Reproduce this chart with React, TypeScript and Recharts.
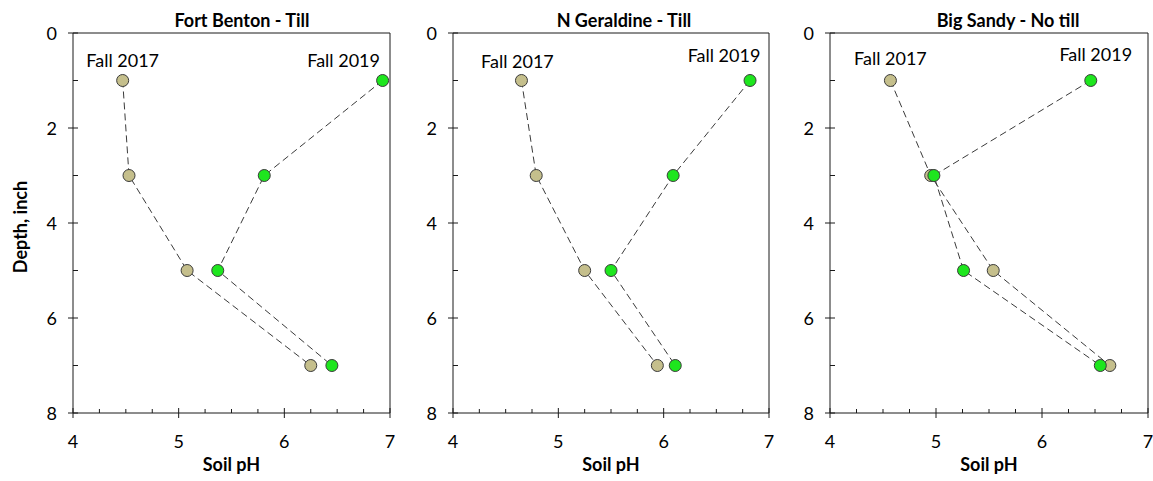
import React from 'react';
import { ScatterChart, Scatter, XAxis, YAxis, ReferenceLine, Label } from 'recharts';

// depth of each sample, inch
const depths = [1, 3, 5, 7];

// soil pH
const fortBenton2017 = [4.47, 4.53, 5.08, 6.25];
const fortBenton2019 = [6.93, 5.81, 5.37, 6.45];
const nGeraldine2017 = [4.65, 4.79, 5.25, 5.94];
const nGeraldine2019 = [6.82, 6.09, 5.5, 6.11];
const bigSandy2017 = [4.57, 4.95, 5.54, 6.64];
const bigSandy2019 = [6.46, 4.98, 5.26, 6.55];

const siteTitles = ['Fort Benton - Till', 'N Geraldine - Till', 'Big Sandy - No till'];
const seriesNames = ['Fall 2017', 'Fall 2019'];

const xTicks = [4, 4.25, 4.5, 4.75, 5, 5.25, 5.5, 5.75, 6, 6.25, 6.5, 6.75, 7];
const yTicks = [0, 1, 2, 3, 4, 5, 6, 7, 8];

const FONT = 'Lato, "Open Sans", sans-serif';
const INK = '#1a1a1a';
const TAN = '#c5bf8c';
const GREEN = '#1ee61e';

const toRows = (vals: number[]) => vals.map((ph, i) => ({ ph, depth: depths[i] }));

const panels = [
  {
    title: siteTitles[0], left: 0, width: 395, titleX: 242,
    s2017: fortBenton2017, s2019: fortBenton2019,
    lab2017: [0, -13.5], lab2019: [-39, -13.5], showDepth: true,
  },
  {
    title: siteTitles[1], left: 380, width: 394, titleX: 624,
    s2017: nGeraldine2017, s2019: nGeraldine2019,
    lab2017: [-4, -12.5], lab2019: [-26, -18.5], showDepth: false,
  },
  {
    title: siteTitles[2], left: 757, width: 396, titleX: 1008,
    s2017: bigSandy2017, s2019: bigSandy2019,
    lab2017: [0, -15.5], lab2019: [5, -19.5], showDepth: false,
  },
];

function YTick(props: any) {
  const { x, y, payload } = props;
  const v = payload.value;
  if (v % 2 === 1) {
    return <line x1={x} x2={x + 5} y1={y} y2={y} stroke={INK} />;
  }
  return (
    <g>
      <line x1={x - 5} x2={x + 5} y1={y} y2={y} stroke={INK} />
      <text x={x - 16} y={y + 6.5} textAnchor="end" fontFamily={FONT} fontSize={18} fill="#000">
        {v}
      </text>
    </g>
  );
}

function XTick(props: any) {
  const { x, y, payload } = props;
  const v = payload.value;
  if (!Number.isInteger(v)) {
    return <line x1={x} x2={x} y1={y - 4} y2={y} stroke={INK} />;
  }
  return (
    <g>
      <line x1={x} x2={x} y1={y - 5} y2={y + 5} stroke={INK} />
      <text x={x} y={y + 35} textAnchor="middle" fontFamily={FONT} fontSize={18} fill="#000">
        {v}
      </text>
    </g>
  );
}

function makeShape(fill: string, name: string, off: number[]) {
  return (props: any) => {
    const { cx, cy, payload } = props;
    return (
      <g>
        <circle cx={cx} cy={cy} r={6} fill={fill} stroke="#3a3a3a" strokeWidth={1} />
        {payload.depth === depths[0] && (
          <text x={cx + off[0]} y={cy + off[1]} textAnchor="middle" fontFamily={FONT} fontSize={18} fill="#000">
            {name}
          </text>
        )}
      </g>
    );
  };
}

const dashLine = { stroke: '#3a3a3a', strokeWidth: 1, strokeDasharray: '7 4' };

function DepthLabel(props: any) {
  const vb = props.viewBox;
  const cx = vb.x + 20;
  const cy = vb.y + vb.height / 2 + 4;
  return (
    <text x={cx} y={cy} transform={`rotate(-90 ${cx} ${cy})`} textAnchor="middle" dominantBaseline="central"
      fontFamily={FONT} fontWeight="bold" fontSize={18} fill="#000">
      Depth, inch
    </text>
  );
}

export default function App() {
  return (
    <div style={{ position: 'absolute', left: 0, top: 0, width: 1153, height: 481, background: '#fff' }}>
      {panels.map((p) => (
        <div key={p.title} style={{ position: 'absolute', left: p.left, top: 0 }}>
          <ScatterChart width={p.width} height={481} margin={{ top: 33, right: 5, bottom: 0, left: 0 }}>
            <XAxis type="number" dataKey="ph" domain={[4, 7]} ticks={xTicks} interval={0}
              tickSize={0} tickMargin={0} tickLine={false} tick={<XTick />} height={68}
              axisLine={{ stroke: INK }} allowDataOverflow>
              <Label position="insideBottom" offset={10} value="Soil pH" fontFamily={FONT}
                fontWeight="bold" fontSize={18} fill="#000" />
            </XAxis>
            <YAxis type="number" dataKey="depth" domain={[0, 8]} reversed ticks={yTicks} interval={0}
              tickSize={0} tickMargin={0} tickLine={false} tick={<YTick />} width={73}
              axisLine={{ stroke: INK }} allowDataOverflow>
              {p.showDepth && <Label content={<DepthLabel />} />}
            </YAxis>
            <ReferenceLine y={0} stroke={INK} />
            <ReferenceLine x={7} stroke={INK} />
            <Scatter data={toRows(p.s2017)} line={dashLine} lineType="joint"
              shape={makeShape(TAN, seriesNames[0], p.lab2017)} isAnimationActive={false} />
            <Scatter data={toRows(p.s2019)} line={dashLine} lineType="joint"
              shape={makeShape(GREEN, seriesNames[1], p.lab2019)} isAnimationActive={false} />
          </ScatterChart>
        </div>
      ))}
      <svg width={1153} height={40} style={{ position: 'absolute', left: 0, top: 0, pointerEvents: 'none' }}>
        {panels.map((p) => (
          <text key={p.title} x={p.titleX} y={27} textAnchor="middle" fontFamily={FONT}
            fontWeight="bold" fontSize={18} fill="#000">
            {p.title}
          </text>
        ))}
      </svg>
    </div>
  );
}
